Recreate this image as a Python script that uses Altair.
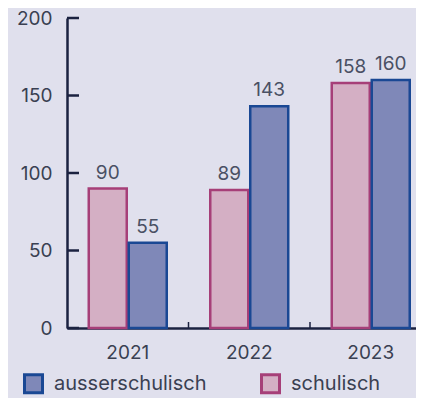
import altair as alt
import pandas as pd

years = ["2021", "2022", "2023"]
schulisch = [90, 89, 158]
ausserschulisch = [55, 143, 160]
y_ticks = [0, 50, 100, 150, 200]

rows = []
for i, yr in enumerate(years):
    rows.append({"year": yr, "typ": "schulisch", "value": schulisch[i]})
    rows.append({"year": yr, "typ": "ausserschulisch", "value": ausserschulisch[i]})
df = pd.DataFrame(rows)

FONT = "Inter"
TXT = "#3a4052"
AX = "#1b2240"
BG = "#e0e0ed"

x_scale = alt.Scale(domain=years, range=[0, 364.5], paddingInner=0, paddingOuter=0)
off_scale = alt.Scale(domain=["schulisch", "ausserschulisch"], paddingInner=0.05, paddingOuter=0.544)
y_scale = alt.Scale(domain=[0, 200], nice=False)

fill_scale = alt.Scale(domain=["ausserschulisch", "schulisch"], range=["#7f88b8", "#d4afc4"])
stroke_scale = alt.Scale(domain=["ausserschulisch", "schulisch"], range=["#1a4894", "#a63f78"])

legend = alt.Legend(
    title=None, orient="none", legendX=-44, legendY=355, direction="horizontal",
    symbolType="square", symbolSize=324, symbolStrokeWidth=3, labelFont=FONT,
    labelFontSize=20, labelColor=TXT, labelOffset=10, columnPadding=48, labelLimit=300,
)

base = alt.Chart(df)

bars = base.mark_bar(strokeWidth=2.5).encode(
    x=alt.X("year:N", scale=x_scale, axis=alt.Axis(
        title=None, labelAngle=0, labelFont=FONT, labelFontSize=19, labelColor=TXT,
        labelPadding=15, ticks=False, domainColor=AX, domainWidth=2.5)),
    xOffset=alt.XOffset("typ:N", scale=off_scale),
    y=alt.Y("value:Q", scale=y_scale, axis=alt.Axis(
        title=None, values=y_ticks, labelFont=FONT, labelFontSize=19, labelColor=TXT,
        labelPadding=15, ticks=False, grid=False, domainColor=AX, domainWidth=2.5)),
    fill=alt.Fill("typ:N", scale=fill_scale, legend=legend),
    stroke=alt.Stroke("typ:N", scale=stroke_scale, legend=legend),
)

labels = base.mark_text(baseline="alphabetic", dy=-10, font=FONT, fontSize=19, color="#4a5064").encode(
    x=alt.X("year:N", scale=x_scale),
    xOffset=alt.XOffset("typ:N", scale=off_scale),
    y=alt.Y("value:Q", scale=y_scale),
    text="value:Q",
)

ytick_df = pd.DataFrame({"v": y_ticks})
yticks = alt.Chart(ytick_df).mark_rule(color=AX, strokeWidth=2.5).encode(
    y=alt.Y("v:Q", scale=y_scale),
    x=alt.value(0), x2=alt.value(12),
)

xtick_df = pd.DataFrame({"year": years[1:]})
xticks = alt.Chart(xtick_df).mark_rule(color=AX, strokeWidth=1.5).encode(
    x=alt.X("year:N", scale=x_scale, bandPosition=0),
    y=alt.value(304), y2=alt.value(310),
)

chart = alt.layer(bars, labels, yticks, xticks).properties(
    width=349, height=310,
    autosize=alt.AutoSizeParams(type="none"),
    padding={"left": 59, "top": 10, "right": 0, "bottom": 70},
    background=BG,
).configure_view(stroke=None)

chart.save("out.html", embed_options={"renderer": "svg", "actions": False})
